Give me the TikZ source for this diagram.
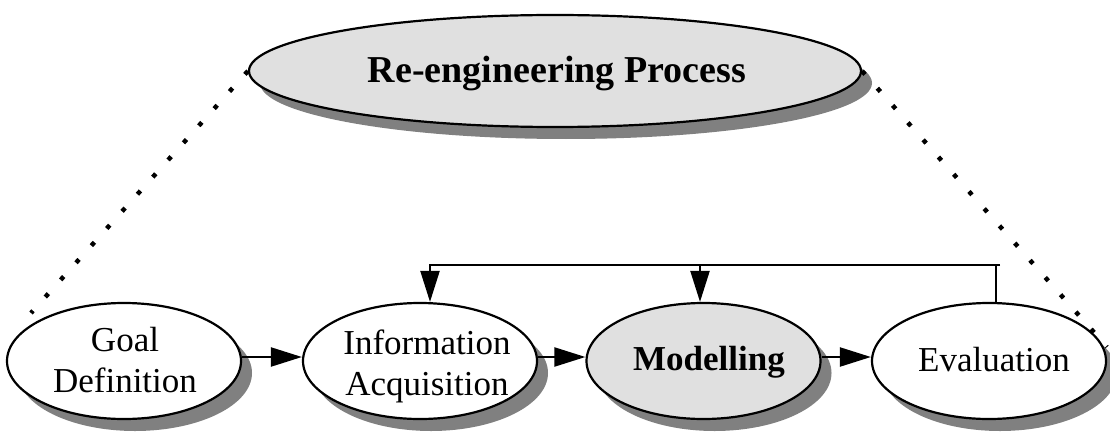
\documentclass[tikz,border=0pt]{standalone}
\usepackage{fontspec}
\setmainfont{Liberation Serif}
\usetikzlibrary{arrows.meta,shadows,shapes.geometric,calc}
\definecolor{shade}{HTML}{808080}
\definecolor{bubblegray}{HTML}{E0E0E0}
\begin{document}
\begin{tikzpicture}[x=1pt,y=-1pt,
  bubble/.style={ellipse, draw=black, line width=2.2pt, fill=white, inner sep=0pt,
    minimum width=234pt, minimum height=116pt,
    drop shadow={shadow xshift=11pt, shadow yshift=-12pt, fill=shade, opacity=1}},
  graybubble/.style={bubble, fill=bubblegray},
  txt/.style={inner sep=0pt, align=center, font=\fontsize{35}{41}\selectfont},
  conn/.style={line width=2.2pt},
  arrow/.style={line width=2.2pt, -{Triangle[length=31pt,width=19pt]}},
  dots/.style={line width=4.5pt, dash pattern=on 4.5pt off 18.5pt}]
\path[use as bounding box, fill=white] (0,0) rectangle (1110,433);

% top ellipse
\node[graybubble, minimum width=612pt, minimum height=112pt] (top) at (555,71) {};
\node[inner sep=0pt, anchor=base, font=\fontsize{38}{44}\selectfont\bfseries] (title) at (557,83) {Re-engineering Process};

% process ellipses
\node[bubble] (goal) at (124,361) {};
\node[bubble] (info) at (420,361) {};
\node[graybubble] (model) at (703.5,361) {};
\node[bubble] (eval) at (989,361) {};

\node[txt, anchor=base] (goalt) at (125,392) {Goal\\Definition};
\node[txt, anchor=base] (infot) at (427,395) {Information\\Acquisition};
\node[txt, anchor=base, font=\fontsize{35}{41}\selectfont\bfseries] (modelt) at (709,370) {Modelling};
\node[txt, anchor=base] (evalt) at (994,371) {Evaluation};

% flow arrows
\draw[arrow] ([yshift=4pt]goal.east) -- ([yshift=4pt]info.west);
\draw[arrow] ([yshift=4pt]info.east) -- ([yshift=4pt]model.west);
\draw[arrow] ([yshift=4pt]model.east) -- ([yshift=4pt]eval.west);

% feedback
\coordinate (fbL) at (430,265);
\coordinate (fbM) at (700,265);
\coordinate (fbR) at (1000,265);
\draw[arrow] (fbR) -- (fbL) -- ([xshift=10pt]info.north);
\draw[arrow] (fbM) -- ([xshift=-3.5pt]model.north);
\draw[conn] ([xshift=7pt]eval.north) -- ([xshift=7pt]eval.north |- fbR);

% dotted expansion lines
\coordinate (dl) at (31,313);
\coordinate (dr) at (1107,347);
\draw[dots] (top.west) -- (dl);
\draw[dots] (top.east) -- (dr);
\end{tikzpicture}
\end{document}
